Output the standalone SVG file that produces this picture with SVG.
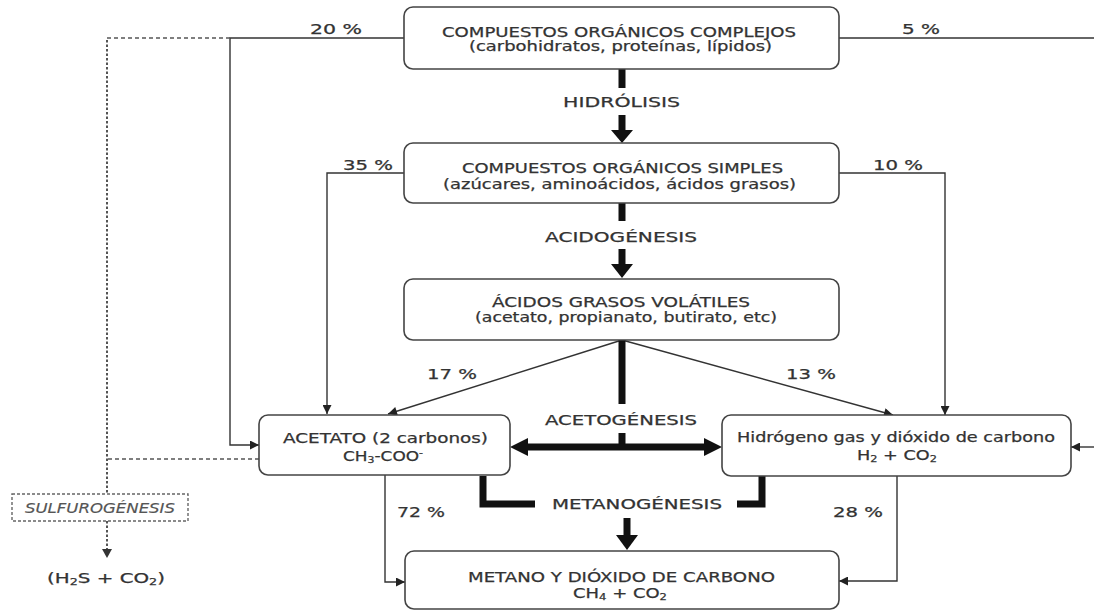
<svg xmlns="http://www.w3.org/2000/svg" width="1094" height="611" viewBox="0 0 1094 611">
<style>
.box{fill:#fff;stroke:#444;stroke-width:1.6}
.t{font-family:"DejaVu Sans",Verdana,sans-serif;font-size:14px;fill:#333;stroke:#333;stroke-width:0.25}
.s{font-size:9px}
.thin{fill:none;stroke:#333;stroke-width:1.4}
.thick{fill:none;stroke:#111;stroke-width:7}
.head{fill:#111}
.dash{fill:none;stroke:#555;stroke-width:1.6;stroke-dasharray:4 3}
.dot{fill:none;stroke:#555;stroke-width:2;stroke-dasharray:2.5 2}
</style>
<defs>
<marker id="a" viewBox="0 0 10 10" refX="10" refY="5" markerWidth="10" markerHeight="9" markerUnits="userSpaceOnUse" orient="auto"><path d="M0,0 L10,5 L0,10 z" fill="#222"/></marker>
</defs>
<rect width="1094" height="611" fill="#fff"/>
<g id="connectors">
<path class="thin" d="M404,38 H230 V445 H259" marker-end="url(#a)"/>
<path class="thin" d="M839,38 H1094"/>
<path class="thin" d="M1094,447 H1071" marker-end="url(#a)"/>
<path class="thin" d="M404,173 H327 V414" marker-end="url(#a)"/>
<path class="thin" d="M839,173 H945 V415" marker-end="url(#a)"/>
<path class="thin" d="M622,340 L388,414" marker-end="url(#a)"/>
<path class="thin" d="M622,340 L893,415" marker-end="url(#a)"/>
<path class="thin" d="M385,475 V582 H405" marker-end="url(#a)"/>
<path class="thin" d="M897,476 V581 H839" marker-end="url(#a)"/>
<path class="dash" d="M230,38 H107"/>
<path class="dot" d="M107,40 V494"/>
<path class="dash" d="M259,459 H107"/>
<path class="dot" d="M107,521 V549"/>
<path d="M102,549 L112,549 L107,558 z" fill="#333"/>
<path class="thick" d="M622,69 V88"/>
<path class="thick" d="M622,115 V131"/>
<path class="head" d="M611,130 L633,130 L622,143 z"/>
<path class="thick" d="M622,203 V221"/>
<path class="thick" d="M622,249 V265"/>
<path class="head" d="M611,264 L633,264 L622,278 z"/>
<path class="thick" d="M622,340 V404"/>
<path class="thick" d="M622,433 V447"/>
<path class="thick" d="M527,447 H706"/>
<path class="head" d="M510,447 L528,438 L528,456 z"/>
<path class="head" d="M722,447 L704,438 L704,456 z"/>
<path class="thick" d="M483,476 V504 H535"/>
<path class="thick" d="M737,504 H762 V476"/>
<path class="thick" d="M627,518 V536"/>
<path class="head" d="M616,535 L638,535 L627,550 z"/>
</g>
<g id="n1">
<rect class="box" x="404" y="7" width="435" height="62" rx="9"/>
<text class="t" x="442" y="37" textLength="354" lengthAdjust="spacingAndGlyphs">COMPUESTOS ORGÁNICOS COMPLEJOS</text>
<text class="t" x="469" y="51" textLength="303" lengthAdjust="spacingAndGlyphs">(carbohidratos, proteínas, lípidos)</text>
</g>
<g id="n2">
<rect class="box" x="404" y="143" width="435" height="60" rx="9"/>
<text class="t" x="462" y="173" textLength="321" lengthAdjust="spacingAndGlyphs">COMPUESTOS ORGÁNICOS SIMPLES</text>
<text class="t" x="443" y="189" textLength="353" lengthAdjust="spacingAndGlyphs">(azúcares, aminoácidos, ácidos grasos)</text>
</g>
<g id="n3">
<rect class="box" x="404" y="279" width="435" height="61" rx="9"/>
<text class="t" x="492" y="307" textLength="258" lengthAdjust="spacingAndGlyphs">ÁCIDOS GRASOS VOLÁTILES</text>
<text class="t" x="475" y="322" textLength="302" lengthAdjust="spacingAndGlyphs">(acetato, propianato, butirato, etc)</text>
</g>
<g id="n4">
<rect class="box" x="259" y="415" width="251" height="60" rx="9"/>
<text class="t" x="283" y="443" textLength="205" lengthAdjust="spacingAndGlyphs">ACETATO (2 carbonos)</text>
<text class="t" x="343" y="461" textLength="80" lengthAdjust="spacingAndGlyphs">CH<tspan class="s" dy="2">3</tspan><tspan dy="-2">-COO</tspan><tspan class="s" dy="-5">-</tspan></text>
</g>
<g id="n5">
<rect class="box" x="722" y="415" width="349" height="61" rx="9"/>
<text class="t" x="737" y="442" textLength="318" lengthAdjust="spacingAndGlyphs">Hidrógeno gas y dióxido de carbono</text>
<text class="t" x="857" y="460" textLength="80" lengthAdjust="spacingAndGlyphs">H<tspan class="s" dy="2">2</tspan><tspan dy="-2"> + CO</tspan><tspan class="s" dy="2">2</tspan></text>
</g>
<g id="n6">
<rect class="box" x="405" y="551" width="434" height="58" rx="9"/>
<text class="t" x="468" y="582" textLength="307" lengthAdjust="spacingAndGlyphs">METANO Y DIÓXIDO DE CARBONO</text>
<text class="t" x="573" y="598" textLength="94" lengthAdjust="spacingAndGlyphs">CH<tspan class="s" dy="2">4</tspan><tspan dy="-2"> + CO</tspan><tspan class="s" dy="2">2</tspan></text>
</g>
<g id="n7">
<rect x="12" y="494" width="176" height="27" fill="#fff" stroke="#666" stroke-width="1.4" stroke-dasharray="3 2"/>
<text class="t" x="25" y="513" textLength="150" lengthAdjust="spacingAndGlyphs" font-style="italic" style="fill:#555;stroke:#555;stroke-width:0.15">SULFUROGÉNESIS</text>
</g>
<g id="n8">
<text class="t" x="47" y="583" textLength="118" lengthAdjust="spacingAndGlyphs">(H<tspan class="s" dy="2">2</tspan><tspan dy="-2">S + CO</tspan><tspan class="s" dy="2">2</tspan><tspan dy="-2">)</tspan></text>
</g>
<g id="labels">
<text class="t" x="563" y="107" textLength="117" lengthAdjust="spacingAndGlyphs">HIDRÓLISIS</text>
<text class="t" x="545" y="242" textLength="152" lengthAdjust="spacingAndGlyphs">ACIDOGÉNESIS</text>
<text class="t" x="545" y="425" textLength="152" lengthAdjust="spacingAndGlyphs">ACETOGÉNESIS</text>
<text class="t" x="552" y="509" textLength="170" lengthAdjust="spacingAndGlyphs">METANOGÉNESIS</text>
<text class="t" x="310" y="34" textLength="52" lengthAdjust="spacingAndGlyphs">20 %</text>
<text class="t" x="902" y="34" textLength="38" lengthAdjust="spacingAndGlyphs">5 %</text>
<text class="t" x="343" y="170" textLength="50" lengthAdjust="spacingAndGlyphs">35 %</text>
<text class="t" x="873" y="170" textLength="50" lengthAdjust="spacingAndGlyphs">10 %</text>
<text class="t" x="427" y="379" textLength="50" lengthAdjust="spacingAndGlyphs">17 %</text>
<text class="t" x="786" y="379" textLength="50" lengthAdjust="spacingAndGlyphs">13 %</text>
<text class="t" x="397" y="517" textLength="48" lengthAdjust="spacingAndGlyphs">72 %</text>
<text class="t" x="833" y="517" textLength="50" lengthAdjust="spacingAndGlyphs">28 %</text>
</g>
</svg>
